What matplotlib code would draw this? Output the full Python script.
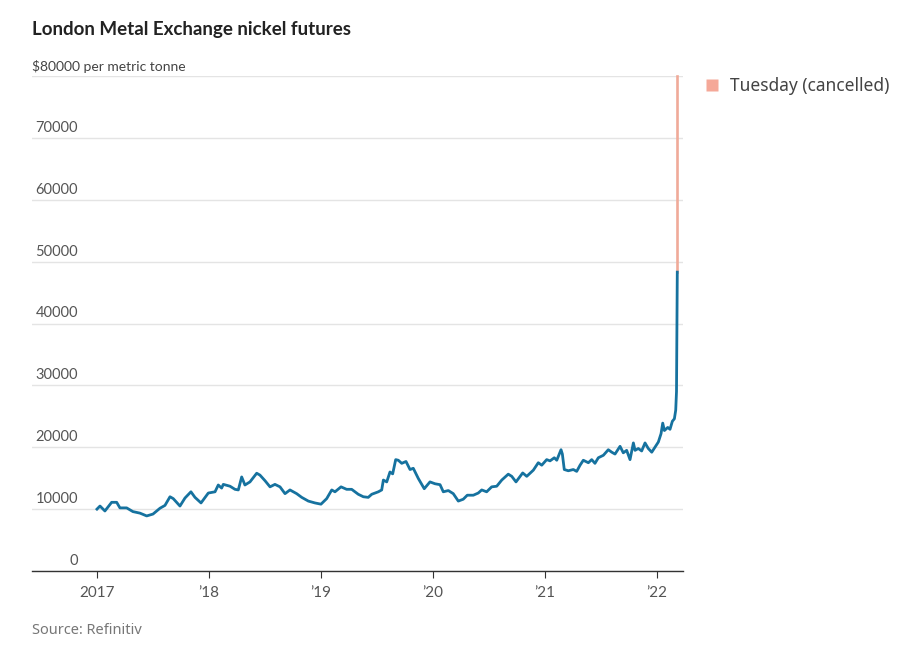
import matplotlib
matplotlib.use('Agg')
import matplotlib.pyplot as plt
from matplotlib.lines import Line2D
from matplotlib.transforms import blended_transform_factory

# decimal year, $ per tonne
years = [2017.00, 2017.027, 2017.071, 2017.131, 2017.176, 2017.205, 2017.265, 2017.321,
         2017.384, 2017.444, 2017.50, 2017.563, 2017.607, 2017.652, 2017.681, 2017.741,
         2017.786, 2017.839, 2017.875, 2017.929, 2017.994, 2018.054, 2018.083, 2018.113,
         2018.128, 2018.188, 2018.232, 2018.262, 2018.292, 2018.321, 2018.366, 2018.426,
         2018.455, 2018.50, 2018.545, 2018.589, 2018.634, 2018.679, 2018.723, 2018.783,
         2018.828, 2018.887, 2018.946, 2019.00, 2019.051, 2019.096, 2019.125, 2019.179,
         2019.229, 2019.274, 2019.333, 2019.378, 2019.422, 2019.453, 2019.512, 2019.542,
         2019.557, 2019.587, 2019.616, 2019.640, 2019.667, 2019.690, 2019.721, 2019.759,
         2019.795, 2019.824, 2019.869, 2019.922, 2019.973, 2020.018, 2020.063, 2020.092,
         2020.137, 2020.181, 2020.226, 2020.270, 2020.306, 2020.360, 2020.404, 2020.435,
         2020.479, 2020.524, 2020.569, 2020.614, 2020.672, 2020.703, 2020.741, 2020.801,
         2020.837, 2020.866, 2020.896, 2020.940, 2020.971, 2021.015, 2021.045, 2021.083,
         2021.105, 2021.143, 2021.155, 2021.172, 2021.208, 2021.253, 2021.283, 2021.313,
         2021.342, 2021.387, 2021.417, 2021.446, 2021.476, 2021.521, 2021.565, 2021.596,
         2021.625, 2021.670, 2021.699, 2021.729, 2021.759, 2021.789, 2021.804, 2021.833,
         2021.863, 2021.893, 2021.922, 2021.953, 2021.982, 2022.012, 2022.036, 2022.051,
         2022.066, 2022.096, 2022.116, 2022.137, 2022.155, 2022.167, 2022.174, 2022.181]
prices = [10000, 10500, 9700, 11100, 11100, 10200, 10200, 9600,
          9350, 8900, 9200, 10150, 10600, 12000, 11700, 10500,
          11800, 12800, 11900, 11000, 12600, 12800, 13900, 13400,
          14000, 13700, 13200, 13100, 15200, 13900, 14400, 15800,
          15500, 14600, 13600, 14000, 13600, 12500, 13100, 12500,
          11900, 11300, 11000, 10800, 11700, 13100, 12800, 13600,
          13200, 13200, 12400, 12000, 11900, 12400, 12800, 13100,
          14700, 14400, 16000, 15700, 18000, 17900, 17400, 17700,
          16400, 16600, 14950, 13300, 14400, 14100, 13950, 12800,
          13000, 12500, 11300, 11600, 12250, 12250, 12600, 13100,
          12800, 13600, 13700, 14700, 15650, 15300, 14400, 15850,
          15300, 15800, 16300, 17500, 17100, 18000, 17800, 18300,
          17900, 19600, 18900, 16400, 16200, 16400, 16100, 17100,
          17900, 17500, 18000, 17400, 18300, 18700, 19600, 19200,
          18900, 20150, 19100, 19500, 18000, 20700, 19500, 19800,
          19400, 20700, 19800, 19200, 20000, 20850, 22200, 23900,
          22700, 23200, 22900, 24200, 24600, 26000, 29000, 48300]

cancel_year = 2022.181
cancel_range = [48300, 80000]

tick_years = [2017, 2018, 2019, 2020, 2021, 2022]
tick_labels = ['2017', '\u201918', '\u201919', '\u201920', '\u201921', '\u201922']
y_ticks = [0, 10000, 20000, 30000, 40000, 50000, 60000, 70000, 80000]

lato = ['Lato', 'DejaVu Sans']
noto = ['Noto Sans', 'DejaVu Sans']

fig = plt.figure(figsize=(9.01, 6.53), dpi=100)
ax = fig.add_axes([32 / 901, 82 / 653, 651 / 901, 495 / 653])

ax.plot(years, prices, color='#16729f', lw=2.0, solid_joinstyle='round', zorder=3)
ax.plot([cancel_year, cancel_year], cancel_range, color='#f0aa99', lw=1.9,
        clip_on=False, zorder=2)

ax.set_xlim(2016.42, 2022.232)
ax.set_ylim(0, 80000)

for s in ['top', 'right', 'left']:
    ax.spines[s].set_visible(False)
ax.spines['bottom'].set_color('#333333')
ax.spines['bottom'].set_linewidth(1)

ax.set_yticks(y_ticks)
ax.yaxis.grid(True, color='#e4e4e4', lw=1)
ax.set_axisbelow(True)
ax.tick_params(axis='y', length=0, labelleft=False)

ax.set_xticks(tick_years)
ax.set_xticklabels(tick_labels, fontfamily=lato, fontsize=11)
ax.tick_params(axis='x', length=5, color='#333333', labelcolor='#555555', pad=6)

tr = blended_transform_factory(ax.transAxes, ax.transData)
for v in y_ticks[:-1]:
    ax.text(0.0707, v + 500, str(v), transform=tr, ha='right', va='bottom',
            fontsize=10.5, color='#555555', family=lato)
ax.text(0.0, y_ticks[-1] + 500, '$80000 per metric tonne', transform=tr,
        ha='left', va='bottom', fontsize=10, color='#444444', family=lato)

fig.text(32 / 901, 1 - 29 / 653, 'London Metal Exchange nickel futures',
         fontsize=13.5, fontweight='bold', color='#222222', va='center',
         family=lato)
fig.text(32 / 901, 1 - 631 / 653, 'Source: Refinitiv', fontsize=10.5,
         color='#777777', va='center', family=noto)

handle = Line2D([], [], marker='s', color='none', markerfacecolor='#f5a898',
                markeredgecolor='none', markersize=9)
fig.legend([handle], ['Tuesday (cancelled)'], loc='center left',
           bbox_to_anchor=(686 / 901, 1 - 86 / 653), frameon=False,
           handlelength=1.2, handletextpad=0.45,
           prop={'family': noto, 'size': 12.5},
           labelcolor='#444444')

fig.savefig('out.png', dpi=100)
